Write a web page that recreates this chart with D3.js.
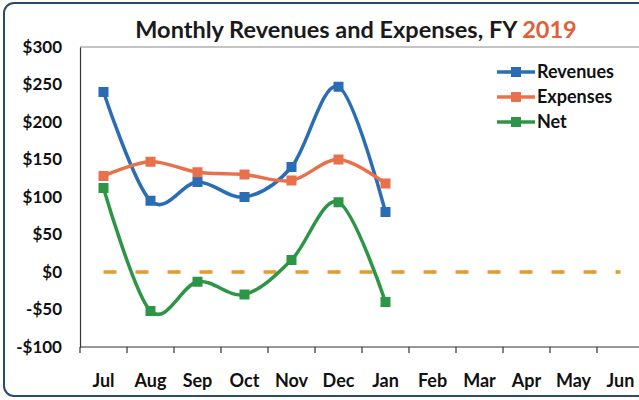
<!DOCTYPE html>
<html>
<head>
<meta charset="utf-8">
<script src="https://cdn.jsdelivr.net/npm/d3@7"></script>
<style>
  body { margin: 0; background: #fff; }
  svg { display: block; font-family: Lato, "Open Sans", sans-serif; font-weight: bold; }
</style>
</head>
<body>
<svg id="chart" width="639" height="400"></svg>
<script>
// data
const months = ["Jul", "Aug", "Sep", "Oct", "Nov", "Dec", "Jan", "Feb", "Mar", "Apr", "May", "Jun"];
const revenues = [240, 95, 120, 100, 140, 247, 80];
const expenses = [128, 147, 133, 130, 122, 150, 118];
const net = [112, -52, -13, -30, 16, 93, -40];
const zero = [0, 0, 0, 0, 0, 0, 0, 0, 0, 0, 0, 0];
const yTicks = [-100, -50, 0, 50, 100, 150, 200, 250, 300];

const series = [
  { name: "Revenues", values: revenues, color: "#2b6db5" },
  { name: "Expenses", values: expenses, color: "#e8704a" },
  { name: "Net", values: net, color: "#2c9546" }
];

const svg = d3.select("#chart");
const plotLeft = 80, plotTop = 47, plotBottom = 347, plotRight = 644;

// chart frame
svg.append("rect")
  .attr("x", 4).attr("y", 3).attr("width", 700).attr("height", 393)
  .attr("rx", 10)
  .attr("fill", "#fff").attr("stroke", "#2a4a70").attr("stroke-width", 2);

const x = d3.scaleBand().domain(months).range([plotLeft, plotRight]);
const y = d3.scaleLinear().domain([-100, 300]).range([plotBottom, plotTop]);

// plot area border
svg.append("line").attr("x1", plotLeft).attr("x2", plotRight).attr("y1", plotTop).attr("y2", plotTop)
  .attr("stroke", "#888").attr("stroke-width", 1);

// y axis
const yAxis = svg.append("g").attr("transform", `translate(${plotLeft},0)`)
  .call(d3.axisLeft(y).tickValues(yTicks).tickSize(0).tickPadding(18)
    .tickFormat(d => (d < 0 ? "-$" : "$") + Math.abs(d)));
yAxis.select(".domain").attr("stroke", "#333").attr("stroke-width", 1.2);
yAxis.selectAll("text").attr("font-size", 17).attr("font-family", "Lato, sans-serif")
  .attr("font-weight", "bold").attr("fill", "#111");

// x axis with ticks between categories
const xAxis = svg.append("g").attr("transform", `translate(0,${plotBottom})`);
xAxis.append("line").attr("x1", plotLeft).attr("x2", plotRight).attr("stroke", "#333").attr("stroke-width", 1.2);
xAxis.selectAll("line.tick").data(months).join("line")
  .attr("class", "tick")
  .attr("x1", d => x(d)).attr("x2", d => x(d))
  .attr("y1", 0).attr("y2", 6)
  .attr("stroke", "#333").attr("stroke-width", 1.2);
xAxis.selectAll("text").data(months).join("text")
  .attr("x", d => x(d) + x.bandwidth() / 2)
  .attr("y", 40)
  .attr("text-anchor", "middle")
  .attr("font-size", 18)
  .attr("fill", "#111")
  .text(d => d);

const cx = (d, i) => x(months[i]) + x.bandwidth() / 2;
const line = d3.line().x(cx).y(d => y(d)).curve(d3.curveCardinal.tension(0));

// dashed zero line
svg.append("path")
  .attr("d", d3.line().x(cx).y(d => y(d))(zero))
  .attr("fill", "none").attr("stroke", "#e39a2e")
  .attr("stroke-width", 3.5).attr("stroke-dasharray", "13,19");

series.forEach(s => {
  svg.append("path")
    .attr("d", line(s.values))
    .attr("fill", "none").attr("stroke", s.color)
    .attr("stroke-width", 3.5);
  svg.selectAll(null).data(s.values).join("rect")
    .attr("x", (d, i) => cx(d, i) - 5)
    .attr("y", d => y(d) - 5)
    .attr("width", 10).attr("height", 10)
    .attr("fill", s.color);
});

// legend
const legend = svg.append("g").attr("transform", "translate(497,72)");
series.forEach((s, i) => {
  const g = legend.append("g").attr("transform", `translate(0,${i * 25})`);
  g.append("line").attr("x1", 0).attr("x2", 38).attr("stroke", s.color).attr("stroke-width", 3.5);
  g.append("rect").attr("x", 14).attr("y", -5).attr("width", 10).attr("height", 10).attr("fill", s.color);
  g.append("text").attr("x", 40).attr("y", 6).attr("font-size", 18).attr("fill", "#111").text(s.name);
});

// title
const title = svg.append("text").attr("x", 356).attr("y", 38)
  .attr("text-anchor", "middle").attr("font-size", 23.5).attr("fill", "#1a1a1a");
title.append("tspan").text("Monthly Revenues and Expenses, FY ");
title.append("tspan").attr("fill", "#e0603a").text("2019");
</script>
</body>
</html>
